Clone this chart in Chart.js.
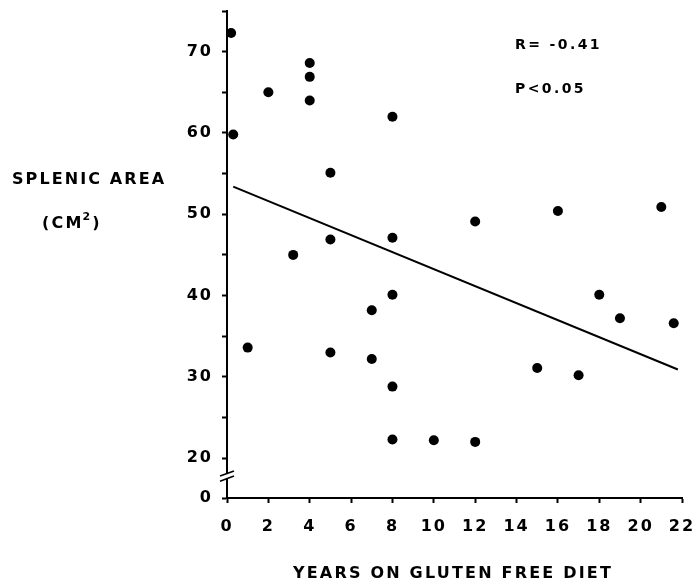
<!DOCTYPE html>
<html>
<head>
<meta charset="utf-8">
<script src="https://cdn.jsdelivr.net/npm/chart.js@4/dist/chart.umd.min.js"></script>
<style>
  html, body { margin: 0; padding: 0; background: #fff; }
  #wrap { width: 699px; height: 583px; position: relative; }
</style>
</head>
<body>
<div id="wrap"><canvas id="c" width="699" height="583"></canvas></div>
<script>
// ---- data ----
const yearsOnDiet = [0.2, 0.3, 1.0, 2.0, 3.2, 4.0, 4.0, 4.0, 5.0, 5.0, 5.0, 7.0, 7.0, 8.0, 8.0, 8.0, 8.0, 8.0, 10.0, 12.0, 12.0, 15.0, 16.0, 17.0, 18.0, 19.0, 21.0, 21.6];
const splenicArea = [72.3, 59.8, 33.6, 65.0, 45.0, 68.6, 66.9, 64.0, 55.1, 46.9, 33.0, 38.2, 32.2, 62.0, 47.1, 40.1, 28.8, 22.3, 22.2, 49.1, 22.0, 31.1, 50.4, 30.2, 40.1, 37.2, 50.9, 36.6];
const fitX = [0.3, 21.8];
const fitY = [53.4, 30.9];
const xTickValues = [0, 2, 4, 6, 8, 10, 12, 14, 16, 18, 20, 22];
const yTickValues = [20, 25, 30, 35, 40, 45, 50, 55, 60, 65, 70, 75];
const yLabelledTicks = [0, 20, 30, 40, 50, 60, 70];
const yBreakBottom = 15.1;   // axis is broken: the "0" tick sits just below 20
const xTitle = "YEARS ON GLUTEN FREE DIET";
const yTitle = "SPLENIC AREA";
const yUnit = ["(CM", "2", ")"];
const statLines = ["R= -0.41", "P<0.05"];

const points = yearsOnDiet.map((x, i) => ({ x: x, y: splenicArea[i] }));
const fitLine = fitX.map((x, i) => ({ x: x, y: fitY[i] }));

const FONT = "'DejaVu Sans', Verdana, sans-serif";

const spacingPlugin = {
  id: 'spacing',
  beforeDraw(chart) { chart.ctx.letterSpacing = '2px'; }
};

const annotate = {
  id: 'annotate',
  afterDraw(chart) {
    const ctx = chart.ctx;
    const xs = chart.scales.x, ys = chart.scales.y;
    ctx.save();
    // axis break marks
    const ax = xs.left;
    const p20 = ys.getPixelForValue(20), p0 = ys.getPixelForValue(yBreakBottom);
    const c = p20 + (p0 - p20) * 0.45;
    ctx.fillStyle = '#fff';
    ctx.fillRect(ax - 3, c - 2.5, 6, 5);
    ctx.strokeStyle = '#000';
    ctx.lineWidth = 1.6;
    [-2.6, 2.6].forEach(d => {
      ctx.beginPath();
      ctx.moveTo(ax - 7, c + d + 2.6);
      ctx.lineTo(ax + 7, c + d - 2.6);
      ctx.stroke();
    });
    ctx.fillStyle = '#000';
    ctx.textBaseline = 'middle';
    // y title
    ctx.textAlign = 'left';
    ctx.font = "bold 16px " + FONT;
    ctx.letterSpacing = '2.1px';
    ctx.fillText(yTitle, 12, 180);
    ctx.letterSpacing = '2.2px';
    let w = ctx.measureText(yUnit[0]).width;
    ctx.fillText(yUnit[0], 42, 224);
    ctx.font = "bold 11px " + FONT;
    ctx.letterSpacing = '1px';
    ctx.fillText(yUnit[1], 42 + w - 1, 217);
    let w2 = ctx.measureText(yUnit[1]).width;
    ctx.font = "bold 16px " + FONT;
    ctx.letterSpacing = '2.2px';
    ctx.fillText(yUnit[2], 42 + w + w2, 224);
    // x title
    ctx.font = "bold 16px " + FONT;
    ctx.letterSpacing = '2.2px';
    ctx.textAlign = 'center';
    ctx.fillText(xTitle, 453, 574);
    // stats
    ctx.textAlign = 'left';
    ctx.font = "bold 14px " + FONT;
    ctx.letterSpacing = '2.4px';
    ctx.fillText(statLines[0], 515, 45);
    ctx.fillText(statLines[1], 515, 89);
    ctx.restore();
  }
};

new Chart(document.getElementById('c'), {
  type: 'scatter',
  data: {
    datasets: [
      {
        data: points,
        backgroundColor: '#000',
        borderColor: '#000',
        borderWidth: 0,
        pointRadius: 5,
        pointHoverRadius: 5
      },
      {
        type: 'line',
        data: fitLine,
        borderColor: '#000',
        borderWidth: 2,
        pointRadius: 0,
        fill: false,
        tension: 0
      }
    ]
  },
  options: {
    responsive: false,
    animation: false,
    events: [],
    layout: { padding: { left: 0, top: 11, right: 17, bottom: 0 } },
    plugins: { legend: { display: false }, tooltip: { enabled: false } },
    scales: {
      x: {
        type: 'linear',
        min: 0, max: 22,
        afterBuildTicks: s => { s.ticks = xTickValues.map(v => ({ value: v })); },
        afterFit: s => { s.height = 85; s.paddingLeft = 0; s.paddingRight = 0; },
        grid: { drawOnChartArea: false, drawTicks: true, tickLength: 5, tickColor: '#000', tickWidth: 2, color: '#000' },
        border: { display: true, color: '#000', width: 2 },
        ticks: {
          color: '#000', padding: 14, maxRotation: 0, autoSkip: false,
          font: { family: FONT, size: 16, weight: 'bold' },
          callback: v => String(v)
        }
      },
      y: {
        type: 'linear',
        min: yBreakBottom, max: 75,
        afterBuildTicks: s => { s.ticks = [{ value: yBreakBottom }].concat(yTickValues.map(v => ({ value: v }))); },
        afterFit: s => { s.width = 227; s.paddingTop = 0; s.paddingBottom = 0; },
        grid: { drawOnChartArea: false, drawTicks: true, tickLength: 5, tickColor: '#000', tickWidth: 2, color: '#000' },
        border: { display: true, color: '#000', width: 2 },
        ticks: {
          color: '#000', padding: 9, autoSkip: false,
          font: { family: FONT, size: 16, weight: 'bold' },
          callback: v => {
            if (v === yBreakBottom) return String(yLabelledTicks[0]);
            return yLabelledTicks.indexOf(v) >= 0 ? String(v) : '';
          }
        }
      }
    }
  },
  plugins: [spacingPlugin, annotate]
});
</script>
</body>
</html>
